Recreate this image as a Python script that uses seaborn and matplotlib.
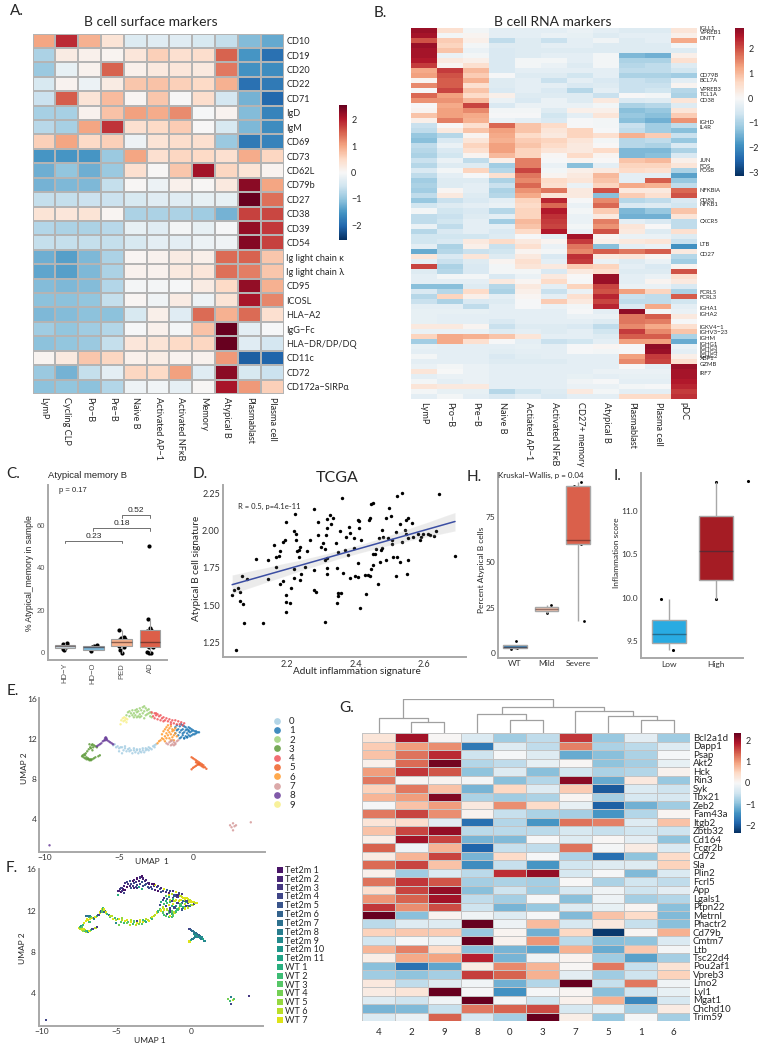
import numpy as np
import pandas as pd
import matplotlib
matplotlib.use("Agg")
import matplotlib.pyplot as plt
import seaborn as sns

W, H = 761, 1050

# --- A. surface markers
surface_cells = ["LymP", "Cycling CLP", "Pro−B", "Pre−B", "Naive B", "Activated AP−1", "Activated NFκB",
                 "Memory", "Atypical B", "Plasmablast", "Plasma cell"]
surface_markers = ["CD10", "CD19", "CD20", "CD22", "CD71", "IgD", "IgM", "CD69", "CD73", "CD62L", "CD79b", "CD27",
                   "CD38", "CD39", "CD54", "Ig light chain κ", "Ig light chain λ", "CD95", "ICOSL", "HLA−A2",
                   "IgG−Fc", "HLA−DR/DP/DQ", "CD11c", "CD72", "CD172a−SIRPα"]
surface_values = [
    [1.0, 1.9, 0.9, 0.35, -0.35, -0.3, -0.3, -0.4, -0.6, -1.1, -1.3],
    [-0.8, 0.2, 0.12, 0.07, 0.3, 0.6, 0.4, 0.45, 1.5, -1.5, -1.9],
    [-0.95, -0.2, 0.1, 1.5, 0.12, 0.25, 0.3, 0.25, 1.35, -1.55, -1.6],
    [-0.4, 0.08, -0.15, 0.2, 0.7, 0.75, 0.6, 0.5, 0.9, -1.9, -1.8],
    [-0.55, 1.55, 0.35, 0.8, 0.05, 0.7, 0.0, 0.45, -0.45, -1.2, -2.0],
    [-0.85, -0.85, 0.1, 0.75, 1.05, 0.95, 1.2, -0.02, 0.08, -1.1, -1.7],
    [-0.7, -0.85, 1.0, 1.85, 0.4, 0.5, 0.65, 0.0, -0.4, -1.15, -1.6],
    [0.6, 1.0, 0.5, 0.6, -0.12, 0.35, 0.45, 0.4, -0.95, -1.8, -1.7],
    [-1.5, -1.5, -1.5, -0.95, 1.0, 0.4, 0.55, 0.5, 0.4, 0.95, 0.55],
    [-1.25, -1.0, -1.25, -0.95, 0.4, 0.02, 0.7, 2.15, 0.55, 0.35, 0.08],
    [-1.2, -1.15, -1.15, -0.6, 0.03, -0.15, 0.12, 0.02, 0.25, 2.3, 1.0],
    [-0.6, -0.6, -0.55, -0.55, -0.4, -0.3, -0.3, -0.2, -0.2, 2.6, 1.4],
    [0.35, 0.3, 0.35, 0.05, -0.8, -0.8, -0.8, -0.9, -1.2, 1.75, 1.7],
    [-0.75, -0.8, -0.8, -0.7, -0.2, -0.3, -0.05, -0.2, -0.02, 2.25, 1.8],
    [-0.6, -0.6, -0.6, -0.6, -0.4, -0.25, -0.25, -0.15, -0.1, 2.35, 1.75],
    [-1.25, -1.4, -1.15, -0.8, 0.05, 0.1, 0.2, 0.15, 1.45, 1.5, 0.7],
    [-1.35, -1.4, -1.15, -0.8, 0.1, 0.1, 0.25, 0.3, 1.4, 1.3, 0.7],
    [-1.1, -1.15, -1.1, -0.75, -0.05, -0.05, -0.02, 0.2, 0.5, 2.25, 0.9],
    [-1.05, -1.05, -1.0, -0.6, 0.05, -0.1, 0.2, -0.12, 0.35, 2.1, 1.25],
    [-1.15, -1.1, -1.05, -1.05, -0.4, 0.15, -0.3, 1.45, 0.9, 1.45, 0.4],
    [-0.9, -1.0, -0.9, -0.75, -0.02, 0.12, -0.05, 0.75, 2.75, -0.25, -0.02],
    [-1.05, -1.0, -0.95, -0.6, 0.3, 0.35, 0.5, 0.55, 2.55, -0.3, -0.45],
    [0.07, 0.25, 0.7, 0.55, 0.12, 0.18, 0.08, 0.1, 1.1, -2.1, -2.05],
    [-0.95, -1.2, -0.6, -0.25, 0.55, 0.5, 1.05, -0.3, 2.3, -0.4, -0.55],
    [-1.05, -1.0, -1.05, -0.75, -0.12, -0.08, -0.22, 0.02, 2.1, 1.1, 0.6],
]

# --- B. RNA markers
rna_cells = ["LymP", "Pro−B", "Pre−B", "Naive B", "Actiated AP−1", "Activated NFκB", "CD27+ memory", "Atypical B",
             "Plasmablast", "Plasma cell", "pDC"]
rna_values = [
    [2.7, 0.5, -0.1, -0.3, -0.3, -0.3, -0.2, -0.3, -0.4, -0.4, 0.4],
    [2.6, -0.1, 0.1, -0.3, -0.3, -0.2, -0.25, -0.4, -0.3, -0.3, 0.2],
    [2.0, 0.8, 0.2, -0.8, -0.4, -0.7, -0.3, -0.15, -0.4, -0.3, 1.2],
    [2.7, 0.7, -0.1, -0.4, -0.4, -0.3, -0.3, -0.4, -0.4, -0.4, -0.1],
    [2.6, 0.9, -0.2, -0.5, -0.4, -0.4, -0.4, -0.4, -0.4, -0.4, -0.4],
    [2.6, -0.2, -0.1, -0.5, -0.4, -0.3, -0.3, -0.1, -1.4, -1.5, 0.2],
    [2.5, 0.3, 0.2, -0.5, -0.1, -0.1, -0.3, -0.1, -1.0, -1.0, 0.5],
    [2.2, 0.1, 0.5, -0.5, -0.1, -0.2, -0.4, -0.1, -0.9, -0.8, -0.4],
    [1.2, 2.2, 1.0, -0.5, -0.3, -0.3, -0.3, -0.3, -0.8, -0.8, -0.6],
    [1.3, 2.0, 0.8, -0.05, -0.4, -0.4, -0.6, -0.3, -1.0, -1.0, -1.1],
    [0.1, 1.9, 1.1, -0.4, -0.3, -0.7, -0.3, -0.5, -0.7, -0.8, -0.3],
    [1.5, 1.9, 0.5, -0.4, -0.3, -0.3, -0.5, -0.4, -0.7, -0.7, 0.1],
    [-0.05, 2.1, 0.9, -0.5, -0.3, -0.5, -0.9, -0.3, -0.7, -0.6, -0.9],
    [1.8, 1.3, 0.6, 0.2, -0.4, -0.4, -0.4, -0.7, 0.0, -0.1, -1.0],
    [1.4, 1.4, 1.0, -0.2, -0.5, -0.2, -0.4, 0.3, -0.5, -0.4, 0.4],
    [0.0, 1.2, 2.1, -0.5, -0.2, -0.2, -0.2, -0.1, -1.0, -0.9, -0.4],
    [0.1, 1.3, 1.5, -0.1, -0.1, -0.4, 0.2, 0.2, -1.3, -1.2, 0.4],
    [0.9, 1.3, 1.2, -0.05, -0.05, -0.6, -0.3, 0.4, -1.2, -1.3, 0.8],
    [0.2, 1.6, 1.1, -0.2, -0.3, -0.5, -0.05, -0.1, -1.3, -1.5, 1.4],
    [-0.7, 0.0, 0.5, 1.8, 0.9, 0.6, -0.05, -0.1, -0.7, -1.1, -0.8],
    [-0.8, 0.3, 0.9, 1.3, 0.9, 0.4, 0.7, -0.05, -0.8, -1.1, -1.3],
    [-1.2, -0.9, 0.1, 1.2, 0.6, 0.3, 0.7, 0.5, 1.1, 0.8, -0.7],
    [-1.3, -0.5, 0.4, 1.1, 0.8, 0.7, 0.4, -0.1, -0.9, -0.8, -1.2],
    [-0.8, -0.2, 0.7, 1.3, 0.9, 0.6, 0.3, 0.0, -0.9, -1.0, -0.5],
    [-0.9, -0.5, 0.5, 1.3, 0.7, 0.4, 0.3, 0.6, -1.4, -1.4, -1.0],
    [-1.0, -0.6, 0.1, 1.0, 0.7, 0.02, 0.6, 0.1, -1.4, -1.3, -0.5],
    [-0.7, -0.2, -0.8, 0.2, 1.6, -0.05, 0.1, 0.0, 0.9, 1.0, 0.2],
    [-0.9, -0.4, -0.4, -1.1, 1.6, -0.2, -1.3, -0.3, 0.7, 0.7, 0.4],
    [-0.5, -0.1, 0.7, -0.9, 2.1, -0.1, 0.2, 0.3, 0.6, 0.5, -1.0],
    [-0.8, -0.3, -0.05, 0.5, 1.7, 0.1, 0.3, 1.0, -0.3, -0.3, -1.7],
    [-1.1, -0.4, -0.4, -1.0, 1.5, 0.6, 0.4, 0.9, -0.3, 1.9, -1.2],
    [-1.0, -0.4, -0.3, -0.7, 1.8, 0.5, -0.2, 0.7, 1.2, 1.1, -0.8],
    [-1.1, 0.05, -0.3, -1.0, 1.4, 1.7, 0.3, 2.0, 0.3, 0.3, 1.8],
    [-0.8, 0.3, -0.4, -0.9, 1.2, 0.4, 0.3, -1.3, 0.8, 0.5, 2.0],
    [-1.2, -0.7, -0.5, -0.3, 0.7, 2.4, -0.05, 1.5, -0.9, -0.8, -0.5],
    [-0.6, -0.4, -0.3, -0.2, 0.6, 1.8, -0.2, 1.8, -0.5, -0.4, -0.6],
    [-0.1, -0.6, -0.5, -0.9, 0.7, 2.5, -0.1, 0.8, -1.4, -1.2, 0.9],
    [-0.8, -0.7, -0.4, -0.3, 0.7, 2.3, -0.2, 0.3, -1.5, -1.5, 0.4],
    [-0.8, -0.6, -0.3, -1.1, 1.0, 2.2, -0.2, 1.6, -0.3, -0.5, -0.8],
    [-0.2, -0.8, -0.3, -0.3, 0.9, 2.1, -0.1, 1.4, 0.4, 0.0, -0.8],
    [-0.9, -0.5, -0.3, -0.5, 0.6, 2.5, -0.2, 2.0, 0.3, -0.4, 0.5],
    [-0.6, -0.6, -0.6, -0.4, -0.05, -0.3, 2.6, 0.1, -0.2, -0.2, -0.4],
    [-0.6, -0.5, 0.3, 0.6, 0.3, 0.1, 2.2, 0.2, 0.3, 0.4, -0.7],
    [-0.3, -1.0, 0.2, -0.7, 0.5, -0.2, 1.7, -1.3, -0.3, -0.2, -1.9],
    [-1.6, -0.9, -0.7, -0.6, 0.1, -0.1, 1.5, 1.9, 1.7, 1.9, 0.3],
    [0.4, -0.5, 0.4, -0.4, 0.3, -0.5, 2.3, 0.3, 0.4, 0.1, -0.9],
    [-0.3, -0.7, -0.4, 0.1, 0.5, -0.3, 2.2, -0.2, -0.4, -0.2, -1.1],
    [2.1, -1.0, -0.5, -0.1, 0.4, 0.3, 0.8, 0.7, -0.3, -0.5, 0.1],
    [-0.4, -0.9, -0.5, -0.1, -0.1, -0.5, 0.3, 0.5, -0.4, -0.4, 2.0],
    [-0.3, -0.1, -0.1, -0.5, -0.2, 0.3, 0.0, 2.7, -0.3, -0.2, 0.5],
    [-0.3, -0.3, -0.3, 0.3, 0.05, 0.6, -0.05, 2.7, -0.3, 0.1, 0.3],
    [-1.3, -1.3, -0.4, -0.9, 0.3, -0.3, 0.7, 2.1, -0.2, -0.2, -0.5],
    [-0.5, -0.9, 0.6, -1.0, 0.2, -0.7, -0.2, 2.0, 1.3, 0.7, -1.0],
    [-0.9, 0.7, 0.2, -0.3, 0.05, -0.3, 0.5, 2.4, -0.7, -0.8, 1.9],
    [-0.7, -1.0, -0.5, -0.4, -0.05, 0.8, 0.3, 2.1, -0.8, -0.8, -0.6],
    [-0.3, -0.3, -0.8, -0.3, -0.05, -0.2, -0.1, 2.4, -0.5, 1.2, -0.3],
    [-0.25, -0.25, -0.25, -0.3, -0.3, -0.3, -0.05, -0.3, 2.8, -0.1, -0.2],
    [-0.25, -0.3, -0.3, -0.3, -0.3, -0.3, -0.2, -0.2, 1.7, 1.9, 0.3],
    [-0.25, -0.3, -0.3, -0.5, -0.3, -0.3, -0.3, -0.4, 1.7, 1.6, -0.05],
    [0.3, 0.3, 0.1, -0.7, -0.4, -0.4, -0.5, -0.8, 1.5, 1.2, 0.5],
    [-0.2, -0.2, -0.2, -0.4, -0.3, -0.4, -0.3, -0.6, 2.2, 1.5, 0.9],
    [0.7, 1.2, 1.1, 0.9, 0.4, -0.3, -0.3, -0.4, 1.9, 1.9, -1.0],
    [-1.1, 1.2, 0.5, -0.05, -0.3, -0.7, -0.6, -0.3, 1.3, 1.3, -1.6],
    [-0.25, -0.3, -0.3, -0.3, -0.25, -0.3, -0.05, 0.05, -0.05, 2.8, -0.2],
    [-0.3, -0.3, -0.3, -0.35, -0.3, -0.3, -0.05, -0.1, -0.05, 2.7, -0.3],
    [-0.1, -0.3, -0.3, -0.5, -0.35, -0.3, -0.3, -0.3, 1.3, 2.2, 0.2],
    [-0.3, -0.3, -0.3, -0.4, -0.4, -0.4, -0.3, -0.3, 1.5, 2.1, 0.5],
    [-0.2, -0.1, -0.2, -0.3, -0.3, -0.3, -0.3, -0.3, -0.05, -0.3, 2.7],
    [0.4, -0.03, -0.2, -0.3, -0.3, -0.3, -0.3, -0.2, -0.2, -0.2, 2.6],
    [-0.3, -0.2, -0.2, -0.3, -0.3, -0.3, -0.25, -0.3, -0.25, -0.25, 2.6],
    [-0.1, -0.3, -0.2, -0.3, -0.3, -0.3, -0.15, -0.05, -0.3, -0.3, 2.5],
    [0.4, 0.3, 0.3, -0.3, -0.3, -0.3, -0.2, -0.2, -0.1, -0.05, 2.4],
    [-0.1, -0.25, -0.25, -0.9, -0.6, -0.4, 0.3, -0.1, -0.3, -0.3, 2.2],
    [-0.3, -0.1, -0.3, -0.5, -0.3, -0.5, -0.3, -0.3, 0.6, 0.6, 2.3],
]
rna_genes = ["IGLL1", "VPREB1", "DNTT", "CD79B", "BCL7A", "VPREB3", "TCL1A", "CD38", "IGHD", "IL4R", "JUN", "FOS",
             "FOSB", "NFKBIA", "CD83", "NFKB1", "CXCR5", "LTB", "CD27", "FCRL5", "FCRL3", "IGHA1", "IGHA2",
             "IGKV4−1", "IGHV3−23", "IGHM", "IGHG1", "IGHG3", "IGHG4", "IGHG2", "XBP1", "GZMB", "IRF7"]
rna_gene_px = [28.5, 33, 38.5, 75.5, 81, 89.5, 94.5, 100, 122.5, 127.5, 161, 166, 171, 191, 200, 205, 221.5, 244.5,
               254.5, 292.5, 297.5, 308.5, 314, 327.5, 333, 338, 344, 348, 352, 356, 359, 364, 373.5]

# --- C. atypical memory B
patient_groups = ["HD−Y", "HD−O", "PED", "AD"]
hdy_pct = [4.7, 4.2, 3.5, 3.0, 2.5, 2.0, 1.5]
hdo_pct = [3.6, 3.2, 2.5, 1.2, 0.8]
ped_pct = [10.5, 7.5, 7.0, 6.5, 6.0, 5.5, 5.0, 4.5, 4.0, 3.0, 2.5, 1.5, 0.0]
ad_pct = [50.3, 16.0, 11.5, 10.8, 10.2, 8.0, 6.0, 5.0, 4.5, 3.0, 2.6, 2.5, 0.2, 0.0, 0.0]
hdy_off = [0.08, -0.08, 0.06, -0.05, 0.02, -0.06, -0.02]
hdo_off = [0.12, 0.03, -0.05, -0.07, -0.1]
ped_off = [-0.08, 0.08, -0.02, 0.1, -0.1, 0.04, -0.12, 0.12, -0.03, -0.08, 0.07, -0.06, 0.02]
ad_off = [-0.05, -0.08, 0.0, 0.03, -0.1, -0.04, 0.08, -0.12, 0.05, -0.07, 0.1, -0.02, -0.1, 0.05, -0.03]
patient_colors = ["#d3e6ee", "#7fbbdc", "#f6b08c", "#dc5f49"]
bracket_from = [0, 1, 2]
bracket_to = [2, 3, 3]
bracket_top = [52.7, 58.7, 64.8]
bracket_p = ["0.23", "0.18", "0.52"]

# --- D. TCGA
adult_infl = [2.04, 2.045, 2.05, 2.057, 2.064, 2.063, 2.074, 2.072, 2.07, 2.083,
              2.11, 2.129, 2.145, 2.145, 2.162, 2.168, 2.169, 2.177, 2.181, 2.18,
              2.189, 2.193, 2.189, 2.196, 2.198, 2.197, 2.208, 2.198, 2.212, 2.219,
              2.219, 2.221, 2.224, 2.226, 2.227, 2.229, 2.234, 2.237, 2.235, 2.237,
              2.24, 2.252, 2.257, 2.267, 2.279, 2.279, 2.279, 2.286, 2.29, 2.29,
              2.299, 2.305, 2.312, 2.31, 2.31, 2.318, 2.318, 2.318, 2.315, 2.316,
              2.316, 2.324, 2.329, 2.334, 2.343, 2.345, 2.346, 2.349, 2.35, 2.35,
              2.358, 2.356, 2.36, 2.363, 2.369, 2.373, 2.377, 2.381, 2.384, 2.383,
              2.395, 2.395, 2.399, 2.408, 2.41, 2.408, 2.406, 2.41, 2.415, 2.412,
              2.43, 2.427, 2.437, 2.443, 2.438, 2.441, 2.444, 2.45, 2.446, 2.451,
              2.451, 2.458, 2.459, 2.464, 2.469, 2.474, 2.472, 2.477, 2.479, 2.477,
              2.488, 2.488, 2.494, 2.498, 2.502, 2.506, 2.506, 2.508, 2.517, 2.519,
              2.522, 2.52, 2.53, 2.534, 2.529, 2.536, 2.544, 2.551, 2.547, 2.554,
              2.554, 2.547, 2.554, 2.565, 2.568, 2.583, 2.587, 2.59, 2.596, 2.61,
              2.617, 2.629, 2.635, 2.643, 2.69]
atypical_sig = [1.57, 1.60, 1.20, 1.615, 1.585, 1.53, 1.38, 1.505, 1.696, 1.673,
                1.81, 1.38, 1.80, 1.675, 1.906, 1.754, 1.823, 1.83, 1.864, 1.638,
                1.924, 1.94, 1.658, 1.564, 2.056, 1.517, 1.512, 1.45, 1.615, 1.745,
                1.68, 2.0, 2.11, 1.978, 1.937, 1.864, 1.87, 1.89, 1.82, 1.665,
                1.71, 1.758, 1.864, 1.935, 2.143, 1.734, 1.6, 1.588, 1.97, 2.058,
                1.89, 1.917, 1.875, 1.8, 1.387, 1.814, 1.752, 1.705, 1.969, 2.018,
                2.08, 2.105, 2.047, 2.087, 1.917, 1.752, 1.515, 1.857, 1.584, 1.562,
                1.582, 1.996, 2.221, 1.716, 1.872, 1.957, 1.834, 2.025, 1.682, 1.984,
                1.953, 1.881, 1.694, 2.074, 2.063, 1.781, 1.687, 2.02, 1.937, 1.483,
                1.575, 1.702, 1.702, 1.696, 2.069, 2.085, 2.179, 2.186, 1.743, 1.77,
                1.846, 1.846, 1.879, 1.64, 1.949, 1.872, 1.792, 2.002, 1.957, 1.886,
                2.085, 1.805, 1.953, 2.154, 2.096, 1.935, 1.913, 1.823, 1.991, 1.694,
                1.825, 2.23, 2.045, 2.255, 1.792, 1.924, 2.007, 1.707, 2.074, 2.087,
                1.80, 1.98, 1.953, 2.054, 1.957, 1.98, 1.935, 1.957, 1.98, 1.98,
                1.97, 1.966, 1.995, 2.245, 1.83]

# --- H. COVID groups
severity = ["WT", "Mild", "Severe"]
wt_pct = [6.3, 3.3, 2.0, 2.8]
mild_pct = [26.6, 24.2, 21.8]
severe_pct = [92.6, 94.8, 62.5, 60.3, 17.7]
wt_off = [0.03, -0.07, -0.13, 0.05]
mild_off = [0.15, 0.0, 0.0]
severe_off = [-0.14, 0.08, -0.1, 0.08, 0.18]
severity_colors = ["#3a87bc", "#f4c9b4", "#da604b"]

# --- I. inflammation score
score_groups = ["Low", "High"]
low_score = [9.98, 9.66, 9.51, 9.40]
high_score = [11.33, 10.81, 10.27, 9.98]
low_off = [-0.18, 0.01, -0.18, 0.08]
high_off = [0.0, 0.11, -0.02, 0.0]
score_colors = ["#29abe2", "#a51c24"]
stray_pos = [1.68]
stray_score = [11.34]

# --- E/F. UMAP points per cluster, with the sample of each point
c0_x = [-5.4, -5.3, -5.2, -5.1, -5.0, -4.9, -4.8, -4.7, -4.6, -4.5, -4.4, -4.3, -4.2, -4.1, -4.0, -3.9, -3.8, -3.7, -3.6, -3.5,
        -3.4, -3.3, -3.2, -3.1, -3.0, -2.9, -2.8, -2.7, -2.6, -2.5, -4.6, -4.3, -4.0, -3.8, -3.6, -3.4, -3.2, -3.0, -5.0, -4.8, -2.6]
c0_y = [11.4, 11.5, 11.2, 11.3, 11.1, 11.2, 11.2, 10.9, 11.1, 10.8, 11.0, 10.8, 10.9, 10.6, 10.9, 10.7, 10.9, 10.6, 10.8, 10.7,
        10.9, 10.7, 10.9, 11.0, 10.9, 11.1, 11.0, 11.3, 11.2, 11.5, 11.3, 11.1, 11.1, 11.0, 11.0, 11.1, 11.1, 11.2, 10.8, 10.6, 11.4]
c0_s = [13, 16, 17, 12, 16, 11, 17, 13, 16, 12, 17, 14, 13, 16, 17, 12, 13, 16, 17, 14,
        16, 13, 17, 12, 11, 16, 17, 13, 12, 16, 15, 17, 16, 13, 3, 17, 12, 16, 8, 14, 17]
c1_x = [-1.2, -1.2, -1.1, -1.1, -1.0, -1.0, -0.9, -0.9, -0.8, -0.8, -0.8, -0.7, -0.7, -0.7, -0.6, -0.6, -0.6, -0.5, -0.5, -0.5,
        -0.4, -0.4, -0.4, -0.3, -0.3, -0.3, -0.2, -0.2, -0.2, -0.1, -0.1, -0.1, 0.0, 0.0, 0.1, 0.1, 0.2, 0.2, 0.3, 0.4, -0.9, -0.6, -0.4, -0.7, -0.3]
c1_y = [12.6, 13.2, 12.9, 13.4, 12.4, 13.0, 13.3, 12.7, 12.2, 12.9, 13.5, 12.4, 13.0, 13.4, 12.1, 12.7, 13.3, 12.3, 12.9, 13.2,
        12.2, 12.6, 13.0, 12.4, 12.8, 13.2, 12.3, 12.7, 13.1, 12.4, 12.8, 13.0, 12.5, 12.9, 12.5, 12.8, 12.6, 12.8, 12.7, 12.7, 12.1, 12.1, 12.2, 12.6, 12.9]
c1_s = [17, 3, 16, 4, 10, 17, 2, 3, 16, 17, 5, 12, 17, 3, 16, 5, 17, 11, 6, 17,
        3, 16, 17, 2, 11, 17, 16, 3, 17, 5, 17, 16, 13, 17, 16, 17, 3, 17, 16, 17, 12, 4, 17, 13, 3]
c2_x = [-4.5, -4.4, -4.3, -4.3, -4.2, -4.1, -4.1, -4.0, -3.9, -3.9, -3.8, -3.8, -3.7, -3.7, -3.6, -3.6, -3.5, -3.5, -3.4, -3.4,
        -3.3, -3.3, -3.2, -3.2, -3.1, -3.1, -3.0, -3.0, -2.9, -2.9, -2.8, -2.8, -3.6, -3.3, -3.8, -4.0]
c2_y = [14.4, 14.7, 14.3, 14.8, 14.6, 14.9, 14.4, 14.6, 14.9, 14.4, 14.7, 15.0, 14.3, 14.8, 15.1, 14.5, 14.9, 14.3, 15.2, 14.6,
        15.3, 14.8, 15.1, 14.4, 14.9, 14.5, 15.0, 14.6, 14.7, 14.3, 14.6, 14.2, 14.2, 14.1, 14.2, 14.2]
c2_s = [1, 2, 0, 3, 2, 4, 1, 3, 0, 2, 3, 1, 4, 2, 0, 3, 1, 10, 2, 3,
        0, 4, 1, 3, 2, 5, 1, 3, 2, 4, 0, 3, 2, 11, 1, 4]
c3_x = [-7.5, -7.45, -7.4, -7.35, -7.3, -7.25, -7.2, -7.15, -7.1, -7.05, -7.0, -6.95, -6.9, -6.85, -6.8, -6.75, -6.7, -6.6, -6.5, -7.0,
        -6.9, -6.8, -7.3, -7.2, -7.1, -7.0, -6.9, -6.8, -6.7, -6.6, -6.4, -6.3]
c3_y = [10.3, 10.4, 10.2, 10.5, 10.1, 10.6, 10.0, 10.8, 10.0, 11.0, 9.9, 11.2, 10.0, 11.4, 11.5, 11.2, 11.4, 11.3, 11.2, 11.5,
        11.1, 10.9, 10.4, 10.2, 10.1, 10.0, 9.9, 10.0, 10.1, 10.2, 10.3, 10.4]
c3_s = [17, 12, 16, 9, 17, 12, 15, 17, 12, 17, 16, 17, 9, 12, 7, 17, 12, 16, 9, 6,
        17, 12, 13, 17, 16, 12, 9, 17, 12, 3, 16, 2]
c4_x = [-2.8, -2.7, -2.6, -2.6, -2.5, -2.4, -2.4, -2.3, -2.2, -2.2, -2.1, -2.0, -1.9, -1.8, -1.7, -1.6, -1.5, -1.4, -1.3, -1.2,
        -1.1, -1.0, -0.9, -0.8, -0.7, -0.6, -2.5, -2.0, -1.5]
c4_y = [14.7, 14.3, 14.6, 14.1, 14.4, 14.5, 14.0, 14.3, 14.4, 13.9, 14.1, 14.2, 13.9, 14.1, 13.8, 14.0, 13.7, 13.9, 13.6, 13.9,
        13.5, 13.8, 13.5, 13.7, 13.4, 13.6, 14.6, 13.8, 13.5]
c4_s = [1, 3, 0, 4, 2, 17, 1, 3, 2, 0, 4, 1, 3, 17, 2, 5, 1, 3, 16, 2,
        4, 17, 1, 3, 16, 2, 0, 4, 17]
c5_x = [-0.1, 0.0, 0.1, 0.2, 0.2, 0.3, 0.3, 0.4, 0.4, 0.5, 0.5, 0.6, 0.6, 0.7, 0.7, 0.8, 0.9, -0.1, 0.0, 0.1, 0.2, 0.3, 0.4]
c5_y = [10.2, 10.1, 10.0, 9.9, 9.7, 9.8, 9.6, 9.7, 9.5, 9.6, 9.4, 9.5, 9.3, 9.4, 9.2, 9.2, 9.05, 9.0, 9.15, 9.25, 9.35, 9.45, 9.5]
c5_s = [3, 5, 6, 7, 8, 6, 9, 7, 8, 5, 7, 6, 9, 8, 7, 10, 8, 17, 11, 6, 8, 7, 9]
c6_x = [-2.4, -2.3, -2.2, -2.1, -2.1, -2.0, -2.0, -1.9, -1.9, -1.9, -1.8, -1.8, -1.8, -1.7, -1.7, -1.7, -1.6, -1.6, -1.6, -1.5,
        -1.5, -1.5, -1.4, -1.4, -1.4, -1.3, -1.3, -1.3, -1.2, -1.2, -1.1]
c6_y = [11.6, 11.8, 11.9, 12.1, 12.5, 12.0, 12.8, 12.3, 13.0, 11.8, 12.6, 13.2, 12.1, 12.9, 12.4, 13.4, 12.1, 12.7, 13.1, 12.5,
        13.3, 11.9, 12.2, 12.8, 13.0, 12.4, 12.9, 11.9, 12.6, 13.1, 12.3]
c6_s = [16, 17, 12, 13, 3, 17, 11, 16, 4, 13, 12, 2, 17, 11, 3, 13, 16, 12, 5, 17,
        10, 13, 3, 12, 16, 11, 2, 13, 17, 12, 3]
c7_x = [-1.8, -1.7, -1.6, -1.5, -1.5, -1.4, -1.3, -1.3, -1.2, -1.1, -1.0, -1.4, -1.2, 2.5, 2.6, 2.7, 2.7, 2.8, 2.9, 3.9]
c7_y = [11.6, 11.5, 11.7, 11.4, 11.8, 11.5, 11.7, 11.4, 11.6, 11.8, 11.9, 11.9, 11.5, 3.4, 3.2, 3.6, 2.9, 3.3, 3.4, 3.7]
c7_s = [12, 13, 3, 12, 13, 17, 11, 12, 13, 16, 12, 3, 13, 14, 12, 7, 3, 16, 13, 2]
c8_x = [-6.5, -6.4, -6.3, -6.2, -6.1, -6.0, -5.95, -5.9, -5.85, -5.8, -5.7, -5.6, -5.5, -5.4, -5.95, -5.85, -9.7]
c8_y = [11.3, 11.4, 11.5, 11.6, 11.8, 11.9, 12.1, 12.2, 12.0, 11.9, 11.8, 11.7, 11.6, 11.5, 11.9, 12.1, 1.4]
c8_s = [5, 17, 12, 3, 17, 4, 17, 12, 16, 5, 17, 12, 7, 16, 13, 17, 3]
c9_x = [-4.85, -4.75, -4.7, -4.65, -4.6, -4.55, -4.5, -4.45, -4.9]
c9_y = [13.9, 14.1, 13.8, 14.2, 13.9, 14.1, 13.7, 14.0, 13.5]
c9_s = [1, 2, 0, 3, 2, 1, 3, 0, 11]
cluster_colors = ["#a6cee3", "#1f78b4", "#9fd27a", "#5e9a3a", "#f0555a", "#ef6128", "#ff9a2e", "#d59a9a", "#6a3d9a", "#f7ef8a"]
sample_names = ["Tet2m 1", "Tet2m 2", "Tet2m 3", "Tet2m 4", "Tet2m 5", "Tet2m 6", "Tet2m 7", "Tet2m 8", "Tet2m 9",
                "Tet2m 10", "Tet2m 11", "WT 1", "WT 2", "WT 3", "WT 4", "WT 5", "WT 6", "WT 7"]

# --- G. cluster heatmap
g_clusters = ["4", "2", "9", "8", "0", "3", "7", "5", "1", "6"]
g_genes = ["Bcl2a1d", "Dapp1", "Psap", "Akt2", "Hck", "Rin3", "Syk", "Tbx21", "Zeb2", "Fam43a", "Itgb2", "Zbtb32", "Cd164",
           "Fcgr2b", "Cd72", "Sla", "Plin2", "Fcrl5", "App", "Lgals1", "Ptpn22", "Metrnl", "Phactr2", "Cd79b", "Cmtm7",
           "Ltb", "Tsc22d4", "Pou2af1", "Vpreb3", "Lmo2", "Lyl1", "Mgat1", "Chchd10", "Trim59"]
g_values = [
    [0.3, 2.0, 0.02, -0.35, -0.85, -0.6, 1.7, -0.9, -0.25, -0.85],
    [0.6, 1.0, 1.1, -1.7, -0.3, -0.6, 1.2, -0.75, -0.65, -0.3],
    [0.7, 1.3, 1.8, -0.5, -0.02, -0.3, -1.2, -1.0, -0.75, -0.03],
    [0.12, 1.35, 2.3, -0.7, -0.6, -0.2, 0.03, -0.95, -0.8, -0.2],
    [1.0, 1.7, 1.5, -0.95, -0.3, -1.0, -0.45, -0.75, -0.7, 0.1],
    [1.25, 0.05, 0.06, -0.05, -1.0, -0.7, 2.15, -1.2, 0.25, -0.9],
    [0.55, 1.25, 0.7, -1.1, 0.5, -0.3, 0.6, -2.0, -0.35, -0.5],
    [0.8, 1.0, 2.2, -0.75, -0.85, -0.75, 0.05, -0.8, -0.4, -0.4],
    [-0.02, 0.7, 1.0, 0.25, 1.1, 0.45, -0.2, -1.95, -1.15, -0.85],
    [1.25, 1.6, 1.1, 0.08, -0.55, -0.75, -0.8, -1.4, -0.7, 0.05],
    [0.3, 0.4, -0.25, -1.8, -0.7, -1.4, 1.3, 1.2, -0.3, 0.7],
    [0.7, 1.6, 2.1, -0.65, -0.65, -0.65, -0.4, -0.55, -0.45, -0.5],
    [0.15, 2.0, 1.6, -1.1, -1.05, -0.02, -0.3, 0.03, -0.25, -0.95],
    [1.4, -0.1, 0.8, -1.9, -0.55, -0.6, 1.3, -0.05, 0.2, -0.35],
    [0.2, 0.8, 1.6, -1.1, 0.45, -0.02, -0.75, -1.8, -0.95, 0.45],
    [1.35, 1.6, 0.7, -1.5, -0.55, -1.4, -0.45, -0.3, -0.3, 0.55],
    [0.12, -0.85, -0.35, -0.65, 1.75, 2.1, -0.4, -0.03, -1.05, -0.35],
    [1.3, 1.7, 1.5, -0.8, -0.75, -0.8, 0.0, -0.75, -0.45, -0.6],
    [0.4, 1.6, 2.1, -1.0, -0.5, -0.85, -0.4, -0.1, -0.5, -0.25],
    [1.05, 1.4, 2.0, -0.6, -0.8, -0.02, -1.0, -0.12, -0.8, -0.7],
    [1.7, 1.1, 1.55, -0.5, -1.1, -0.9, -0.3, -0.2, 0.05, -1.0],
    [2.5, -1.0, 0.08, -0.1, -0.3, -0.03, -1.05, 0.7, 0.45, -1.05],
    [-0.65, -0.3, -0.3, 2.7, -0.12, 0.75, -0.4, 0.25, -0.55, -1.0],
    [0.55, 0.65, 0.6, -0.9, 0.06, -1.15, 0.5, -2.3, 0.05, 0.85],
    [-0.45, -0.02, -0.12, 2.6, 0.1, 1.05, -0.65, -1.0, -0.95, -0.35],
    [0.8, 1.2, 0.45, -1.0, -1.1, -1.25, 0.85, -1.2, 0.65, -0.05],
    [0.15, 0.9, 0.95, 1.85, -1.1, -0.1, 0.08, -0.85, -1.3, -0.8],
    [-1.0, -1.75, -1.25, 0.2, 1.15, 0.8, 0.03, 1.25, -0.55, 0.35],
    [-0.85, -0.95, -0.8, 1.65, 1.4, 0.85, -0.25, -0.85, -0.5, 0.55],
    [0.25, -0.6, -0.3, -0.08, -1.15, -0.7, 2.45, -0.55, 1.25, -0.1],
    [0.2, 0.3, 2.7, -0.02, -1.45, -0.02, 0.05, -1.0, -0.45, -0.2],
    [-0.3, -0.5, -0.08, 2.7, -0.05, -0.45, 0.12, 0.85, -1.55, -0.4],
    [-1.1, -1.05, -0.55, 1.25, 1.4, 1.55, -0.4, -0.2, -0.8, 0.2],
    [-0.35, -0.15, 1.4, -0.4, -0.8, 2.5, 0.15, -0.9, -0.03, -0.8],
]
# left leaf position, left height, right position, right height, join height
g_merges = [(1.5, 0, 2.5, 0, 0.34), (0.5, 0, 2.0, 0.34, 0.437), (4.5, 0, 5.5, 0, 0.379), (3.5, 0, 5.0, 0.379, 0.573),
            (8.5, 0, 9.5, 0, 0.388), (7.5, 0, 9.0, 0.388, 0.495), (6.5, 0, 8.25, 0.495, 0.66),
            (4.25, 0.573, 7.375, 0.66, 0.777), (1.25, 0.437, 5.81, 0.777, 1.0)]

sns.set_theme(style="white")
plt.rcParams["font.family"] = ["Lato", "DejaVu Sans"]
plt.rcParams["axes.unicode_minus"] = True

fig = plt.figure(figsize=(W / 100, H / 100), dpi=100)
SPINE = "#a8a8a8"


def px_axes(left, top, right, bottom):
    return fig.add_axes([left / W, 1 - bottom / H, (right - left) / W, (bottom - top) / H])


def put(x, y, s, size=6, ha="left", va="center", **kw):
    fig.text(x / W, 1 - y / H, s, fontsize=size, ha=ha, va=va, **kw)


def style_gg(ax, xlab, ylab, xlab_px, ylab_px, tick=5.5, label=None):
    sns.despine(ax=ax)
    for side in ("left", "bottom"):
        ax.spines[side].set_color(SPINE)
        ax.spines[side].set_linewidth(1.4)
    ax.tick_params(length=0, labelsize=tick, pad=2, colors="#333333")
    ax.set_xlabel(xlab, fontsize=label or tick)
    ax.set_ylabel(ylab, fontsize=label or tick)
    ax.xaxis.set_label_coords(xlab_px[0] / W, 1 - xlab_px[1] / H, transform=fig.transFigure)
    ax.yaxis.set_label_coords(ylab_px[0] / W, 1 - ylab_px[1] / H, transform=fig.transFigure)


def heat(values, cells, rows, box, cbar_box, vmin, vmax, ticks, lw=0.3, line="#b4b4b4"):
    ax = px_axes(*box)
    cax = px_axes(*cbar_box)
    df = pd.DataFrame(values, columns=cells, index=rows)
    sns.heatmap(df, cmap="RdBu_r", center=0, vmin=vmin, vmax=vmax, linewidths=lw, linecolor=line, ax=ax, cbar_ax=cax,
                cbar_kws={"ticks": ticks}, yticklabels=True, xticklabels=True)
    cax.tick_params(length=0, labelsize=6.5, pad=3)
    return ax


for letter, lx, ly in [("A.", 10, 11), ("B.", 374, 13), ("C.", 6, 474), ("D.", 193, 474), ("H.", 467, 477),
                       ("I.", 614, 476), ("E.", 7, 691), ("F.", 6, 868), ("G.", 339, 708)]:
    put(lx, ly, letter, size=11)

# A
ax = heat(surface_values, surface_cells, surface_markers, (32.5, 33.5, 283.5, 394), (339, 105, 347, 240),
          -2.55, 2.55, [-2, -1, 0, 1, 2])
ax.yaxis.tick_right()
ax.tick_params(axis="y", length=0, labelsize=6.6, pad=2, labelrotation=0)
ax.tick_params(axis="x", length=0, labelsize=6.6, pad=2)
plt.setp(ax.get_xticklabels(), rotation=-90, ha="center", va="top")
put(151, 22, "B cell surface markers", size=10, ha="center")

# B
rna_rows = [str(i) for i in range(len(rna_values))]
ax = heat(rna_values, rna_cells, rna_rows, (411, 28, 697, 399), (735, 28, 744, 176), -3.15, 2.85,
          [-3, -2, -1, 0, 1, 2], lw=0)
ax.set_yticks([])
ax.tick_params(axis="x", length=0, labelsize=6.6, pad=2)
plt.setp(ax.get_xticklabels(), rotation=-90, ha="center", va="top")
put(553, 22, "B cell RNA markers", size=10, ha="center")
for gene, gy in zip(rna_genes, rna_gene_px):
    put(699.5, gy, gene, size=4.3)

# C
ax = px_axes(48, 485, 167, 660)
pct_df = pd.DataFrame({"group": ["HD−Y"] * len(hdy_pct) + ["HD−O"] * len(hdo_pct) + ["PED"] * len(ped_pct) + ["AD"] * len(ad_pct),
                       "pct": hdy_pct + hdo_pct + ped_pct + ad_pct})
sns.boxplot(data=pct_df, x="group", y="pct", hue="group", order=patient_groups, hue_order=patient_groups,
            palette=patient_colors, saturation=1, width=0.73, showfliers=False, showcaps=False, linecolor="#a0a0a0",
            linewidth=0.8, medianprops={"color": (0.2, 0.1, 0.1, 0.55), "linewidth": 1}, legend=False, ax=ax)
c_pos = [i + o for i, offs in enumerate([hdy_off, hdo_off, ped_off, ad_off]) for o in offs]
sns.scatterplot(x=c_pos, y=pct_df["pct"].values, color="black", s=9, linewidth=0, ax=ax)
for a, b, top, label in zip(bracket_from, bracket_to, bracket_top, bracket_p):
    ax.plot([a, a, b, b], [top - 1.3, top, top, top - 1.3], color="#707070", lw=0.7)
    ax.text((a + b) / 2, top + 0.3, label, fontsize=6, ha="center", va="bottom", family="Liberation Sans")
ax.set_xlim(-0.6, 3.6)
ax.set_ylim(-3.4, 78.8)
ax.set_yticks([0, 20, 40, 60])
style_gg(ax, "", "% Atypical_memory in sample", (100, 700), (34.5, 573), tick=5.5, label=6.2)
ax.yaxis.label.set_family("Liberation Sans")
plt.setp(ax.get_xticklabels(), rotation=90, family="Liberation Sans", color="#555555")
plt.setp(ax.get_yticklabels(), family="Liberation Sans", color="#555555")
put(48, 475, "Atypical memory B", size=6.8, family="Liberation Sans")
put(59, 490, "p = 0.17", size=5.5, family="Liberation Sans")

# D
ax = px_axes(222.7, 485, 466, 657)
ax.set_xlim(2.0125, 2.722)
sns.regplot(x=adult_infl, y=atypical_sig, ax=ax, truncate=True, seed=1, color="#7a7a7a",
            scatter_kws={"s": 6, "color": "black", "marker": "s", "linewidths": 0, "alpha": 1},
            line_kws={"linewidth": 1.1})
ax.lines[-1].set_color("#3b4ea3")
ax.set_xlim(2.0125, 2.722)
ax.set_ylim(1.151, 2.306)
ax.set_xticks([2.2, 2.4, 2.6])
ax.set_yticks([1.25, 1.5, 1.75, 2.0, 2.25])
ax.set_yticklabels(["1.25", "1.50", "1.75", "2.00", "2.25"])
style_gg(ax, "Adult inflammation signature", "Atypical B cell signature", (357, 667), (201, 568), tick=6.5, label=7.2)
put(337, 478, "TCGA", size=11.5, ha="center")
put(238, 506, "R = 0.5, p=4.1e-11", size=5.5)

# H
ax = px_axes(498.3, 473, 596.7, 657.7)
sev_df = pd.DataFrame({"group": ["WT"] * len(wt_pct) + ["Mild"] * len(mild_pct) + ["Severe"] * len(severe_pct),
                       "pct": wt_pct + mild_pct + severe_pct})
sns.boxplot(data=sev_df, x="group", y="pct", hue="group", order=severity, hue_order=severity, palette=severity_colors,
            saturation=1, width=0.74, showfliers=False, showcaps=False, linecolor="#a8a8a8", linewidth=1,
            medianprops={"color": (0.25, 0.1, 0.1, 0.5), "linewidth": 1}, legend=False, ax=ax)
h_pos = [i + o for i, offs in enumerate([wt_off, mild_off, severe_off]) for o in offs]
sns.scatterplot(x=h_pos, y=sev_df["pct"].values, color="black", s=4, linewidth=0, ax=ax)
ax.set_xlim(-0.53, 2.59)
ax.set_ylim(-2.77, 99.6)
ax.set_yticks([0, 25, 50, 75])
style_gg(ax, "", "Percent Atypical B cells", (547, 690), (485, 570), tick=6)
put(498, 475, "Kruskal−Wallis, p = 0.04", size=5.8)

# I
ax = px_axes(641, 473, 742.7, 658)
score_df = pd.DataFrame({"group": ["Low"] * len(low_score) + ["High"] * len(high_score), "score": low_score + high_score})
sns.boxplot(data=score_df, x="group", y="score", hue="group", order=score_groups, hue_order=score_groups,
            palette=score_colors, saturation=1, width=0.73, showfliers=False, showcaps=False, linecolor="#a8a8a8",
            linewidth=1, medianprops={"color": (0.1, 0.2, 0.25, 0.5), "linewidth": 1}, legend=False, ax=ax)
i_pos = [i + o for i, offs in enumerate([low_off, high_off]) for o in offs]
sns.scatterplot(x=i_pos, y=score_df["score"].values, color="black", s=5, linewidth=0, ax=ax)
ax.scatter(stray_pos, stray_score, color="black", s=5, linewidth=0, clip_on=False)
ax.set_xlim(-0.6, 1.57)
ax.set_ylim(9.304, 11.435)
ax.set_yticks([9.5, 10.0, 10.5, 11.0])
style_gg(ax, "", "Inflammation score", (690, 690), (620, 553), tick=6)

# E, F
umap_df = pd.DataFrame({
    "x": c0_x + c1_x + c2_x + c3_x + c4_x + c5_x + c6_x + c7_x + c8_x + c9_x,
    "y": c0_y + c1_y + c2_y + c3_y + c4_y + c5_y + c6_y + c7_y + c8_y + c9_y,
    "sample": c0_s + c1_s + c2_s + c3_s + c4_s + c5_s + c6_s + c7_s + c8_s + c9_s,
    "cluster": [str(i) for i, c in enumerate([c0_x, c1_x, c2_x, c3_x, c4_x, c5_x, c6_x, c7_x, c8_x, c9_x]) for _ in c],
})
umap_df["sample"] = [sample_names[i] for i in umap_df["sample"]]

ax = px_axes(39.3, 698, 265, 851.7)
sns.scatterplot(data=umap_df, x="x", y="y", hue="cluster", hue_order=[str(i) for i in range(10)], palette=cluster_colors,
                s=3, linewidth=0, alpha=0.85, ax=ax)
ax.set_xlim(-10.39, 4.86)
ax.set_ylim(0.76, 16.13)
ax.set_xticks([-10, -5, 0])
ax.set_yticks([4, 8, 12, 16])
style_gg(ax, "UMAP  1", "UMAP 2", (152, 858), (28.5, 768), tick=6)
sns.move_legend(ax, "upper left", bbox_to_anchor=(272 / W, 1 - 717 / H), bbox_transform=fig.transFigure, frameon=False,
                title=None, fontsize=7, markerscale=2.8, labelspacing=0.03, handletextpad=0.75, handlelength=1,
                borderpad=0, borderaxespad=0)

ax = px_axes(38.7, 869, 262.7, 1025.7)
sns.scatterplot(data=umap_df, x="x", y="y", hue="sample", hue_order=sample_names, palette="viridis", marker="s",
                s=2.5, linewidth=0, ax=ax)
ax.set_xlim(-10.2, 4.8)
ax.set_ylim(0.82, 16.03)
ax.set_xticks([-10, -5, 0])
ax.set_yticks([4, 8, 12, 16])
style_gg(ax, "UMAP 1", "UMAP 2", (150, 1037), (26, 948), tick=6)
sns.move_legend(ax, "upper left", bbox_to_anchor=(276.5 / W, 1 - 866 / H), bbox_transform=fig.transFigure, frameon=False,
                title=None, fontsize=6.6, markerscale=2.8, labelspacing=-0.02, handletextpad=0.1, handlelength=0.8,
                borderpad=0, borderaxespad=0)

# G
ax = heat(g_values, g_clusters, g_genes, (362.3, 733.3, 690, 1021), (734.3, 733, 741, 833), -2.38, 2.38,
          [-2, -1, 0, 1, 2], lw=0.4, line="#c4c4c4")
ax.yaxis.tick_right()
ax.tick_params(axis="y", length=0, labelsize=7, pad=2, labelrotation=0)
ax.tick_params(axis="x", length=0, labelsize=7, pad=5, labelrotation=0)

dax = px_axes(362.3, 699, 690, 733.3)
for lx, lh, rx, rh, h in g_merges:
    dax.plot([lx, lx, rx, rx], [lh, h, h, rh], color="#a0a0a0", lw=0.9)
dax.set_xlim(0, len(g_clusters))
dax.set_ylim(0, 1.01)
dax.axis("off")

fig.savefig("out.png", dpi=100)
